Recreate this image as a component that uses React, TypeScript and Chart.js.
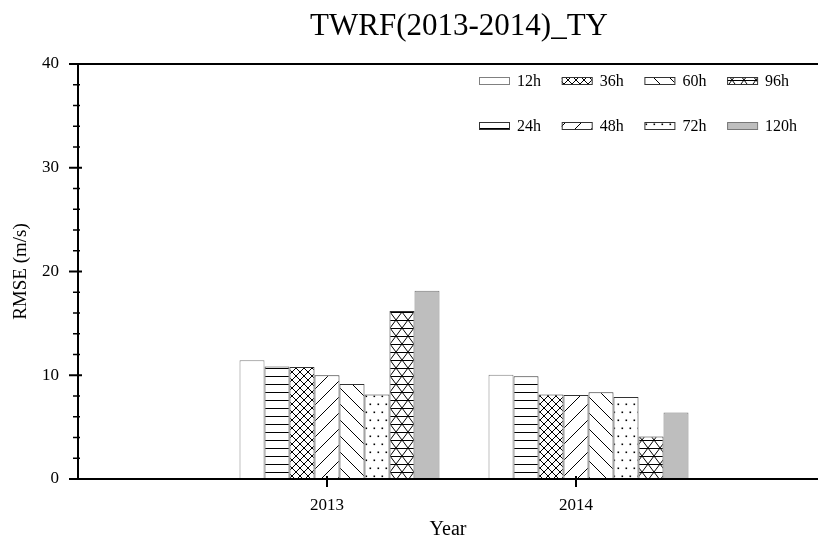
import React, { useEffect, useRef } from 'react';
import { Chart, registerables } from 'chart.js';

Chart.register(...registerables);

// ---- data ----
const TITLE = 'TWRF(2013-2014)_TY';
const X_TITLE = 'Year';
const Y_TITLE = 'RMSE (m/s)';
const YEARS = [2013, 2014];
const SERIES = ['12h', '24h', '36h', '48h', '60h', '72h', '96h', '120h'];
const V12 = [11.45, 10.05];
const V24 = [10.85, 9.9];
const V36 = [10.8, 8.15];
const V48 = [10.0, 8.1];
const V60 = [9.15, 8.35];
const V72 = [8.15, 7.9];
const V96 = [16.2, 4.1];
const V120 = [18.15, 6.4];
const VALUES = [V12, V24, V36, V48, V60, V72, V96, V120];
const Y_TICKS = [0, 10, 20, 30, 40];
const Y_MINOR_STEP = 2;
const X_MIN = 2012;

// ---- styles ----
const FONT = 'Liberation Serif';
const PATTERNS = ['none', 'h', 'x', 'fwd', 'back', 'dots', 'tri', 'gray'];

function makePattern(ctx: CanvasRenderingContext2D, kind: string): any {
  if (kind === 'none') return '#ffffff';
  if (kind === 'gray') return '#bebebe';
  const c = document.createElement('canvas');
  let w = 8, h = 8;
  if (kind === 'fwd' || kind === 'back') { w = 16; h = 16; }
  if (kind === 'dots') { w = 8; h = 16; }
  if (kind === 'tri') { w = 12; h = 16; }
  c.width = w; c.height = h;
  const g = c.getContext('2d')!;
  g.fillStyle = '#ffffff';
  g.fillRect(0, 0, w, h);
  g.strokeStyle = '#000000';
  g.fillStyle = '#000000';
  g.lineWidth = 1;
  const line = (x1: number, y1: number, x2: number, y2: number) => {
    g.beginPath(); g.moveTo(x1, y1); g.lineTo(x2, y2); g.stroke();
  };
  if (kind === 'h') {
    line(0, 0.5, w, 0.5);
  } else if (kind === 'x') {
    line(-1, -1, w + 1, h + 1);
    line(w + 1, -1, -1, h + 1);
  } else if (kind === 'fwd') {
    line(-2, h + 2, w + 2, -2);
    line(-2, 2, 2, -2);
    line(w - 2, h + 2, w + 2, h - 2);
  } else if (kind === 'back') {
    line(-2, -2, w + 2, h + 2);
    line(w - 2, -2, w + 2, 2);
    line(-2, h - 2, 2, h + 2);
  } else if (kind === 'dots') {
    g.fillRect(1.5, 3.5, 1.6, 1.6);
    g.fillRect(5.5, 11.5, 1.6, 1.6);
  } else if (kind === 'tri') {
    line(0, 0.5, w, 0.5);
    line(0, h / 2 + 0.5, w, h / 2 + 0.5);
    line(-1.5, -2, w + 1.5, h + 2);
    line(w + 1.5, -2, -1.5, h + 2);
  }
  return ctx.createPattern(c, 'repeat');
}

const BORDERS = ['#808080', '#333333', '#333333', '#333333', '#333333', '#333333', '#333333', '#777777'];

const framePlugin = {
  id: 'frame',
  afterDatasetsDraw(chart: any) {
    const { ctx, chartArea, scales } = chart;
    const { left, top, bottom } = chartArea;
    const y = scales.y;
    const x = scales.x;
    ctx.save();
    ctx.strokeStyle = '#000000';
    ctx.lineWidth = 2;
    ctx.beginPath();
    ctx.moveTo(left - 9, top); ctx.lineTo(chart.width, top);
    ctx.moveTo(left - 9, bottom); ctx.lineTo(chart.width, bottom);
    ctx.moveTo(left, top); ctx.lineTo(left, bottom);
    ctx.stroke();
    for (let v = y.min; v <= y.max + 1e-9; v += Y_MINOR_STEP) {
      const py = y.getPixelForValue(v);
      const major = Y_TICKS.includes(v);
      ctx.lineWidth = major ? 2 : 1.5;
      ctx.beginPath();
      ctx.moveTo(left - (major ? 9 : 5), py);
      ctx.lineTo(left + (major ? 4 : 2), py);
      ctx.stroke();
    }
    ctx.lineWidth = 2;
    YEARS.forEach((yr) => {
      const px = x.getPixelForValue(yr);
      ctx.beginPath();
      ctx.moveTo(px, bottom - 3);
      ctx.lineTo(px, bottom + 8);
      ctx.stroke();
    });
    ctx.restore();
  },
};

const legendPlugin = {
  id: 'patLegend',
  afterDraw(chart: any) {
    const { ctx, chartArea } = chart;
    const items = chart.data.datasets.filter((d: any) => !d.dummy);
    ctx.save();
    // title
    ctx.fillStyle = '#000000';
    ctx.font = `31px "${FONT}"`;
    ctx.textAlign = 'center';
    ctx.textBaseline = 'alphabetic';
    ctx.fillText(TITLE, 459, 35);
    // legend
    ctx.font = `16px "${FONT}"`;
    ctx.textBaseline = 'middle';
    ctx.textAlign = 'left';
    items.forEach((d: any, i: number) => {
      const col = Math.floor(i / 2);
      const row = i % 2;
      const bx = chartArea.left + 401 + col * 82.7;
      const cy = chartArea.top + 17 + row * 45;
      ctx.fillStyle = d.backgroundColor;
      ctx.fillRect(bx, cy - 3, 30, 6);
      ctx.strokeStyle = d.borderColor;
      ctx.lineWidth = 1;
      ctx.strokeRect(bx + 0.5, cy - 3.5, 30, 7);
      ctx.fillStyle = '#000000';
      ctx.fillText(d.label, bx + 38, cy + 0.5);
    });
    ctx.restore();
  },
};

export default function App() {
  const ref = useRef<HTMLCanvasElement>(null);
  useEffect(() => {
    document.body.style.margin = '0';
    const canvas = ref.current!;
    const ctx = canvas.getContext('2d')!;
    const datasets: any[] = [
      {
        label: '',
        dummy: true,
        data: YEARS.map((yr) => ({ x: yr, y: null })),
        backgroundColor: 'rgba(0,0,0,0)',
        borderWidth: 0,
      },
    ];
    SERIES.forEach((name, i) => {
      datasets.push({
        label: name,
        data: YEARS.map((yr, j) => ({ x: yr, y: VALUES[i][j] })),
        backgroundColor: makePattern(ctx, PATTERNS[i]),
        borderColor: BORDERS[i],
        borderWidth: 1,
      });
    });
    const pxPerYear = 249;
    const chart = new Chart(canvas, {
      type: 'bar',
      data: { datasets },
      plugins: [framePlugin, legendPlugin],
      options: {
        animation: false,
        responsive: false,
        devicePixelRatio: 1,
        layout: { padding: { top: 64, left: 0, right: 0, bottom: 0 } },
        categoryPercentage: 225 / 249,
        barPercentage: 1,
        font: { family: FONT },
        plugins: {
          legend: { display: false },
          tooltip: { enabled: false },
          title: { display: false },
        },
        scales: {
          x: {
            type: 'linear',
            min: X_MIN,
            max: X_MIN + 740 / pxPerYear,
            offset: false,
            grid: { display: false, drawTicks: false, offset: false },
            border: { display: false },
            afterBuildTicks: (s: any) => {
              s.ticks = YEARS.map((v) => ({ value: v }));
            },
            afterFit: (s: any) => {
              s.height = 64;
            },
            ticks: {
              callback: (v: any) => String(v),
              color: '#000000',
              font: { family: FONT, size: 17 },
              padding: 16,
              maxRotation: 0,
              autoSkip: false,
            },
            title: {
              display: true,
              text: X_TITLE,
              color: '#000000',
              font: { family: FONT, size: 20 },
              padding: { top: 0, bottom: 1 },
            },
          },
          y: {
            min: Y_TICKS[0],
            max: Y_TICKS[Y_TICKS.length - 1],
            grid: { display: false, drawTicks: false },
            border: { display: false },
            afterBuildTicks: (s: any) => {
              s.ticks = Y_TICKS.map((v) => ({ value: v }));
            },
            afterFit: (s: any) => {
              s.width = 78;
            },
            ticks: {
              callback: (v: any) => String(v),
              color: '#000000',
              font: { family: FONT, size: 17 },
              padding: 19,
            },
            title: {
              display: true,
              text: Y_TITLE,
              color: '#000000',
              font: { family: FONT, size: 19 },
              padding: { top: 10, bottom: 0 },
            },
          },
        },
      } as any,
    });
    return () => chart.destroy();
  }, []);
  return <canvas ref={ref} width={818} height={543} style={{ display: 'block' }} />;
}
